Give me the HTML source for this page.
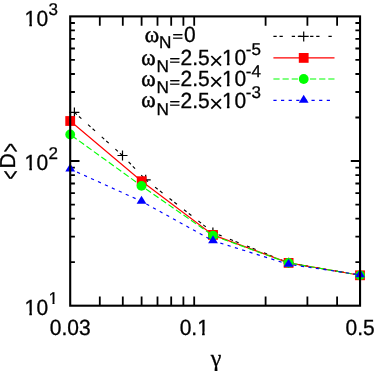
<!DOCTYPE html>
<html><head><meta charset="utf-8"><title>chart</title><style>html,body{margin:0;padding:0;background:#fff}svg{display:block;will-change:transform}text{font-family:"Liberation Sans",sans-serif;fill:#000;font-size:21px;stroke:#000;stroke-width:.3px;text-rendering:geometricPrecision}.s{font-family:"Liberation Serif",serif}</style></head><body>
<svg width="374" height="371" viewBox="0 0 374 371">
<defs><clipPath id="c1"><path d="M0 -20H12V-3.1H7.5V2H4.95V-3.1H0Z"/></clipPath></defs>
<rect width="374" height="371" fill="#fff"/>
<g stroke="#000" fill="none">
<path d="M99.8 305.7v-9.3M99.8 16.4v9.3M122.8 305.7v-9.3M122.8 16.4v9.3M141.6 305.7v-9.3M141.6 16.4v9.3M157.5 305.7v-9.3M157.5 16.4v9.3M171.2 305.7v-9.3M171.2 16.4v9.3M183.4 305.7v-9.3M183.4 16.4v9.3M194.2 305.7v-9.3M194.2 16.4v9.3M265.6 305.7v-9.3M265.6 16.4v9.3M307.4 305.7v-9.3M307.4 16.4v9.3M337.1 305.7v-9.3M337.1 16.4v9.3M70.2 262.2h4.7M360.1 262.2h-4.7M70.2 236.7h4.7M360.1 236.7h-4.7M70.2 218.6h4.7M360.1 218.6h-4.7M70.2 204.6h4.7M360.1 204.6h-4.7M70.2 193.1h4.7M360.1 193.1h-4.7M70.2 183.5h4.7M360.1 183.5h-4.7M70.2 175.1h4.7M360.1 175.1h-4.7M70.2 167.7h4.7M360.1 167.7h-4.7M70.2 161.0h9.3M360.1 161.0h-9.3M70.2 117.5h4.7M360.1 117.5h-4.7M70.2 92.0h4.7M360.1 92.0h-4.7M70.2 74.0h4.7M360.1 74.0h-4.7M70.2 59.9h4.7M360.1 59.9h-4.7M70.2 48.5h4.7M360.1 48.5h-4.7M70.2 38.8h4.7M360.1 38.8h-4.7M70.2 30.4h4.7M360.1 30.4h-4.7M70.2 23.0h4.7M360.1 23.0h-4.7" stroke-width="1.8"/>
</g>
<g fill="none" stroke-width="1.15">
<polyline points="74.4,112.4 122.5,155.5 145.7,179.8 212.9,232.4 288.6,262.8 360.0,275.2" stroke="#000" stroke-dasharray="3.3,2.8,3.3,8.95"/>
<path d="M69.4 112.4H79.4M74.4 107.4V117.4" stroke="#000" stroke-width="1.2"/>
<path d="M117.5 155.5H127.5M122.5 150.5V160.5" stroke="#000" stroke-width="1.2"/>
<path d="M140.7 179.8H150.7M145.7 174.8V184.8" stroke="#000" stroke-width="1.2"/>
<path d="M207.9 232.4H217.9M212.9 227.4V237.4" stroke="#000" stroke-width="1.2"/>
<path d="M283.6 262.8H293.6M288.6 257.8V267.8" stroke="#000" stroke-width="1.2"/>
<path d="M355.0 275.2H365.0M360.0 270.2V280.2" stroke="#000" stroke-width="1.2"/>
<polyline points="70.2,121.0 141.7,181.2 213.0,234.9 288.6,262.9 360.0,275.3" stroke="#f00"/>
<rect x="65.3" y="116.1" width="9.8" height="9.8" fill="#f00"/>
<rect x="136.8" y="176.3" width="9.8" height="9.8" fill="#f00"/>
<rect x="208.1" y="230.0" width="9.8" height="9.8" fill="#f00"/>
<rect x="283.7" y="258.0" width="9.8" height="9.8" fill="#f00"/>
<rect x="355.1" y="270.4" width="9.8" height="9.8" fill="#f00"/>
<polyline points="70.2,134.5 141.5,185.9 213.0,235.6 288.6,262.9 360.0,275.3" stroke="#0f0" stroke-dasharray="6.2,2.95" stroke-dashoffset="-1.8"/>
<circle cx="70.2" cy="134.5" r="4.9" fill="#0f0"/>
<circle cx="141.5" cy="185.9" r="4.9" fill="#0f0"/>
<circle cx="213.0" cy="235.6" r="4.9" fill="#0f0"/>
<circle cx="288.6" cy="262.9" r="4.9" fill="#0f0"/>
<circle cx="360.0" cy="275.3" r="4.9" fill="#0f0"/>
<polyline points="70.2,169.0 141.5,201.3 213.0,240.8 288.6,264.3 360.0,274.8" stroke="#00f" stroke-dasharray="3.2,4.42"/>
<path d="M70.2 163.5L65.3 171.4H75.1Z" fill="#00f"/>
<path d="M141.5 195.8L136.6 203.8H146.4Z" fill="#00f"/>
<path d="M213.0 235.3L208.1 243.2H217.9Z" fill="#00f"/>
<path d="M288.6 258.8L283.7 266.8H293.5Z" fill="#00f"/>
<path d="M360.0 269.3L355.1 277.2H364.9Z" fill="#00f"/>
<path d="M273.4 36.4H331.8" stroke="#000" stroke-dasharray="3.3,2.8,3.3,8.95"/>
<path d="M298.7 36.4H308.7M303.7 31.4V41.4" stroke="#000" stroke-width="1.2"/>
<path d="M273.4 57.9H334.5" stroke="#f00"/>
<rect x="298.8" y="53.0" width="9.8" height="9.8" fill="#f00"/>
<path d="M273.4 79.0H334.5" stroke="#0f0" stroke-dasharray="6.2,2.95"/>
<circle cx="303.7" cy="79.0" r="4.9" fill="#0f0"/>
<path d="M273.4 100.3H333.0" stroke="#00f" stroke-dasharray="3.2,4.42"/>
<path d="M303.7 94.8L298.8 102.8H308.6Z" fill="#00f"/>
</g>
<rect x="70.20" y="16.40" width="289.85" height="289.30" stroke="#000" fill="none" stroke-width="2.1"/>
<text transform="translate(24.40,25.60) scale(1.0000,1.0400)" clip-path="url(#c1)">1</text>
<text transform="translate(36.48,25.60) scale(1,1.04)">0</text>
<text transform="translate(48.46,14.90) scale(1,1)" style="font-size:17px">3</text>
<text transform="translate(24.40,169.90) scale(1.0000,1.0400)" clip-path="url(#c1)">1</text>
<text transform="translate(36.48,169.90) scale(1,1.04)">0</text>
<text transform="translate(48.46,159.20) scale(1,1)" style="font-size:17px">2</text>
<text transform="translate(24.40,314.50) scale(1.0000,1.0400)" clip-path="url(#c1)">1</text>
<text transform="translate(36.48,314.50) scale(1,1.04)">0</text>
<text transform="translate(48.46,304.20) scale(0.8095,0.8095)" clip-path="url(#c1)">1</text>
<text transform="translate(49.76,334.60) scale(1,1.04)">0.03</text>
<text transform="translate(179.64,334.60) scale(1,1.04)">0.</text><text transform="translate(197.16,334.60) scale(1.0000,1.0400)" clip-path="url(#c1)">1</text>
<text transform="translate(345.45,334.60) scale(1,1.04)">0.5</text>
<text x="210.8" y="366" class="s" style="font-size:24px">γ</text>
<g transform="translate(15,161.3) rotate(-90)"><text transform="translate(-18.27,3.73) scale(0.745,1.22)">&lt;</text><text transform="translate(-7.2,0) scale(1,1.03)">D</text><text transform="translate(9.13,3.73) scale(0.745,1.22)">&gt;</text></g>
<text transform="translate(144.80,42.10) scale(1.04,1.1)" class="s" style="stroke-width:.5px">ω</text>
<text transform="translate(159.00,48.30) scale(1,1)" style="font-size:17.2px">N</text>
<text transform="translate(172.60,40.90) scale(0.86,0.67)" style="stroke-width:.6px">=</text>
<text transform="translate(184.10,42.40) scale(1,1.04)">0</text>
<text transform="translate(141.30,64.60) scale(1.04,1.1)" class="s" style="stroke-width:.5px">ω</text>
<text transform="translate(156.40,71.80) scale(1,1)" style="font-size:17.2px">N</text>
<text transform="translate(169.50,65.25) scale(0.86,0.67)" style="stroke-width:.6px">=</text>
<text transform="translate(180.60,64.90) scale(1,1.04)">2.5</text>
<text transform="translate(208.99,68.76)" style="font-size:24.5px;stroke:none">×</text>
<text transform="translate(221.99,64.90) scale(1.0000,1.0400)" clip-path="url(#c1)">1</text>
<text transform="translate(234.57,64.90) scale(1,1.04)">0</text>
<text transform="translate(245.75,55.30) scale(1,1)" style="font-size:17px">-5</text>
<text transform="translate(141.30,86.00) scale(1.04,1.1)" class="s" style="stroke-width:.5px">ω</text>
<text transform="translate(156.40,93.20) scale(1,1)" style="font-size:17.2px">N</text>
<text transform="translate(169.50,86.65) scale(0.86,0.67)" style="stroke-width:.6px">=</text>
<text transform="translate(180.60,86.30) scale(1,1.04)">2.5</text>
<text transform="translate(208.99,90.16)" style="font-size:24.5px;stroke:none">×</text>
<text transform="translate(221.99,86.30) scale(1.0000,1.0400)" clip-path="url(#c1)">1</text>
<text transform="translate(234.57,86.30) scale(1,1.04)">0</text>
<text transform="translate(245.75,76.70) scale(1,1)" style="font-size:17px">-4</text>
<text transform="translate(141.30,107.40) scale(1.04,1.1)" class="s" style="stroke-width:.5px">ω</text>
<text transform="translate(156.40,114.60) scale(1,1)" style="font-size:17.2px">N</text>
<text transform="translate(169.50,108.05) scale(0.86,0.67)" style="stroke-width:.6px">=</text>
<text transform="translate(180.60,107.70) scale(1,1.04)">2.5</text>
<text transform="translate(208.99,111.56)" style="font-size:24.5px;stroke:none">×</text>
<text transform="translate(221.99,107.70) scale(1.0000,1.0400)" clip-path="url(#c1)">1</text>
<text transform="translate(234.57,107.70) scale(1,1.04)">0</text>
<text transform="translate(245.75,98.10) scale(1,1)" style="font-size:17px">-3</text>
</svg></body></html>
